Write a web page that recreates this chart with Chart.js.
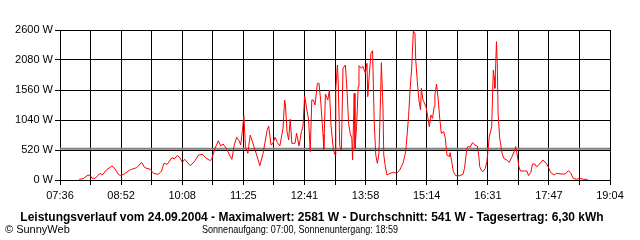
<!DOCTYPE html>
<html>
<head>
<meta charset="utf-8">
<script src="https://cdn.jsdelivr.net/npm/chart.js@4/dist/chart.umd.min.js"></script>
<style>
html,body{margin:0;padding:0;background:#fff;}
canvas{display:block;}
</style>
</head>
<body>
<canvas id="c" width="640" height="240"></canvas>
<script>
// time of day in minutes since midnight
const times = [480,485,491,494,496,500,506,509,514,521,525,529,532,537,544,552,558,562,569,573,579,583,586,590,596,599,603,606,609,612,619,624,629,634,
639,644,646,650,654,657,660,664,668,671,674,677,680,682,684,686,688,691,692,694,698,702,706,710,715,717,720,722,725,728,731,735,737,738,740,742,744,746,750,752,755,758,760,762,765,767,769,771,773,775,778,780,782,785,786,788,791,793,795,798,800,801,803,804,806,808,810,813,815,817,819,821,822,824,825,827,829,830,833,835,838,840,841,843,845,847,849,851,853,855,857,858,860,861,863,865,869,873,877,881,885,888,
889,892,894,896,898,900,901,903,905,907,908,910,911,914,916,918,920,922,924,925,927,929,931,933,936,938,940,943,944,946,948,951,956,960,962,965,967,969,972,975,978,980,981,983,985,988,990,991,993,996,998,999,1000,1001,1002,1003,1004,1006,1009,1011,1015,1018,1021,1024,1026,1028,1030,1032,1036,1040,1042,1045,1047,1050,1052,1056,1060,1065,1067,1070,1074,1077,1084,1088,1092,1095,1098,1102,1106,1111,1116];
// power in W
const watts = [12,23,87,75,30,30,116,87,173,243,190,98,75,110,179,214,306,214,185,116,98,156,289,271,387,364,428,381,306,358,248,318,428,445,
376,335,376,549,682,589,624,549,433,358,607,740,682,607,832,1115,578,462,578,780,607,433,248,462,855,936,607,624,740,647,589,896,1387,1300,838,693,1052,636,636,809,589,838,936,1456,1202,1040,491,1387,1387,1300,1676,1676,1387,792,532,1491,1387,1560,953,520,433,1589,1993,1704,578,520,1936,1993,1560,982,809,723,347,1502,549,924,1618,1982,1936,1970,1849,2022,1445,1849,2195,2241,1040,433,289,462,1445,2034,1271,433,231,87,116,133,116,173,289,462,
578,1098,1577,1965,2581,2542,2080,1704,1387,1213,1589,1387,1358,1260,1098,924,1127,1069,1271,1473,1664,1416,1069,809,838,723,433,405,474,318,145,75,75,98,202,549,589,566,647,607,589,405,231,173,145,202,318,462,751,924,1907,1791,1589,1993,2398,1993,1156,723,462,376,347,306,393,491,578,433,231,156,156,156,75,133,277,277,231,277,347,277,219,127,87,116,104,104,162,116,29,12,29,12,12];
const avgWatt = 541;
const xStart = 456, xEnd = 1144;          // 07:36 .. 19:04
const xTickLabels = ['07:36','08:52','10:08','11:25','12:41','13:58','15:14','16:31','17:47','19:04'];
const yTicks = [0,520,1040,1560,2080,2600];
const yTickLabels = ['0 W','520 W','1040 W','1560 W','2080 W','2600 W'];
const titleText = 'Leistungsverlauf vom 24.09.2004 - Maximalwert: 2581 W - Durchschnitt: 541 W - Tagesertrag: 6,30 kWh';
const copyText = '\u00A9 SunnyWeb';
const sunText = 'Sonnenaufgang: 07:00, Sonnenuntergang: 18:59';

const FONT = '"Liberation Sans", Arial, sans-serif';

const footer = {
  id: 'footer',
  afterDraw(chart) {
    const c = chart.ctx;
    c.save();
    c.fillStyle = '#000';
    c.textBaseline = 'middle';
    c.textAlign = 'center';
    c.font = 'bold 12px ' + FONT;
    c.fillText(titleText, 312, 218, 586);
    c.textAlign = 'left';
    c.font = '11px ' + FONT;
    c.fillText(copyText, 5, 230);
    c.textAlign = 'center';
    c.fillText(sunText, 300, 230, 196);
    c.restore();
  }
};

new Chart(document.getElementById('c'), {
  type: 'line',
  data: {
    datasets: [
      {
        data: times.map((t, i) => ({x: t, y: watts[i]})),
        borderColor: '#ff0000', borderWidth: 1, pointRadius: 0, tension: 0, order: 0
      },
      {
        data: [{x: xStart, y: avgWatt}, {x: xEnd, y: avgWatt}],
        borderColor: '#808080', borderWidth: 2, pointRadius: 0, order: 1
      }
    ]
  },
  options: {
    responsive: false,
    animation: false,
    layout: {padding: {top: 30, right: 30, left: 0, bottom: 0}},
    plugins: {legend: {display: false}, tooltip: {enabled: false}},
    scales: {
      x: {
        type: 'linear', min: xStart, max: xEnd,
        afterBuildTicks: s => { s.ticks = Array.from({length: 19}, (_, i) => ({value: xStart + i * (xEnd - xStart) / 18})); },
        afterFit: s => { s.height = 60; },
        ticks: {
          autoSkip: false, maxRotation: 0, padding: 4, color: '#000',
          font: {family: FONT, size: 11},
          callback: (v, i) => (i % 2 === 0 ? xTickLabels[i / 2] : '')
        },
        grid: {color: '#000', lineWidth: 1, tickLength: 5, tickColor: '#000'},
        border: {color: '#000', width: 1}
      },
      y: {
        min: 0, max: 2600,
        afterBuildTicks: s => { s.ticks = yTicks.map(v => ({value: v})); },
        afterFit: s => { s.width = 60; },
        ticks: {
          padding: 2, color: '#000',
          font: {family: FONT, size: 11},
          callback: (v, i) => yTickLabels[i]
        },
        grid: {color: '#000', lineWidth: 1, tickLength: 5, tickColor: '#000'},
        border: {color: '#000', width: 1}
      }
    }
  },
  plugins: [footer]
});
</script>
</body>
</html>
